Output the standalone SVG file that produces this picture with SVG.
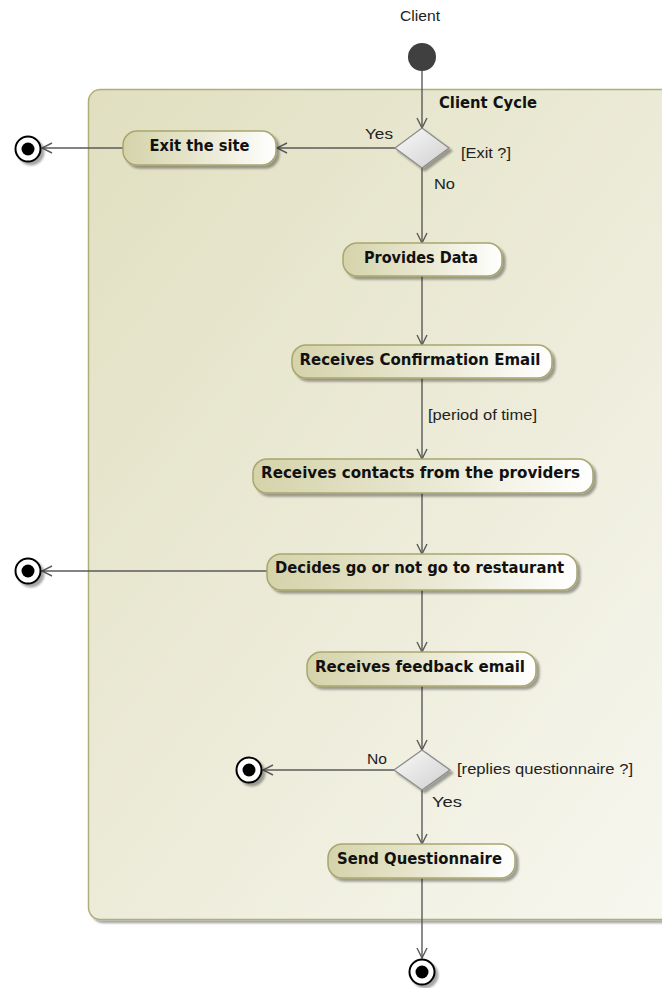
<svg xmlns="http://www.w3.org/2000/svg" width="662" height="988" viewBox="0 0 662 988">
<style>
.act{fill:url(#actGrad);stroke:#a8a66e;stroke-width:1.5;filter:url(#shadow)}
.lbl{font-family:"DejaVu Sans","Liberation Sans",sans-serif;font-weight:bold;font-size:15px;fill:#111;text-anchor:middle}
.lbl-start{text-anchor:start}
.grd{font-family:"Liberation Sans",Arial,sans-serif;font-size:15px;fill:#222}
.edge{stroke:#5a5a5a;stroke-width:1.4;fill:none;marker-end:url(#arr)}
.dec{fill:url(#decGrad);stroke:#8c8c8c;stroke-width:1.3;filter:url(#shadow)}
.fin-o{fill:#fff;stroke:#000;stroke-width:2;filter:url(#shadow)}
.fin-i{fill:#000}
</style>
<defs>
<linearGradient id="actGrad" x1="0" y1="0" x2="1" y2="0">
<stop offset="0" stop-color="#d4d3aa"/>
<stop offset="0.5" stop-color="#e8e7d0"/>
<stop offset="1" stop-color="#ffffff"/>
</linearGradient>
<linearGradient id="contGrad" x1="0" y1="0" x2="1" y2="1">
<stop offset="0" stop-color="#e1dfc0"/>
<stop offset="1" stop-color="#f8f8f2"/>
</linearGradient>
<linearGradient id="decGrad" x1="0" y1="0" x2="1" y2="1">
<stop offset="0" stop-color="#fafafa"/>
<stop offset="1" stop-color="#cfcfcf"/>
</linearGradient>
<filter id="shadow" x="-20%" y="-20%" width="150%" height="160%">
<feGaussianBlur in="SourceAlpha" stdDeviation="1.2"/>
<feOffset dx="3" dy="3" result="o"/>
<feComponentTransfer><feFuncA type="linear" slope="0.35"/></feComponentTransfer>
<feMerge><feMergeNode/><feMergeNode in="SourceGraphic"/></feMerge>
</filter>
<marker id="arr" viewBox="0 0 12 12" refX="11" refY="6" markerWidth="12" markerHeight="12" markerUnits="userSpaceOnUse" orient="auto">
<path d="M1,1 L11,6 L1,11" fill="none" stroke="#5a5a5a" stroke-width="1.4"/>
</marker>
</defs>
<rect width="662" height="988" fill="#ffffff"/>

<g id="title">
<text x="420" y="21" class="grd" text-anchor="middle" textLength="40" lengthAdjust="spacingAndGlyphs">Client</text>
</g>

<g id="client-cycle">
<rect x="88.5" y="89.5" width="640" height="830" rx="12" fill="url(#contGrad)" stroke="#b0ae78" stroke-width="1.5" filter="url(#shadow)"/>
<text x="439" y="108" class="lbl lbl-start" textLength="98" lengthAdjust="spacingAndGlyphs">Client Cycle</text>
</g>

<g id="connectors">
<line class="edge" x1="422" y1="71" x2="422" y2="128"/>
<line class="edge" x1="396" y1="148" x2="277" y2="148"/>
<line class="edge" x1="123" y1="148" x2="42" y2="148"/>
<line class="edge" x1="422" y1="168" x2="422" y2="243"/>
<line class="edge" x1="422" y1="276" x2="422" y2="345"/>
<line class="edge" x1="422" y1="378" x2="422" y2="459"/>
<line class="edge" x1="422" y1="493" x2="422" y2="554"/>
<line class="edge" x1="267" y1="571" x2="42" y2="571"/>
<line class="edge" x1="422" y1="590" x2="422" y2="652"/>
<line class="edge" x1="422" y1="686" x2="422" y2="750"/>
<line class="edge" x1="395" y1="770" x2="263" y2="770"/>
<line class="edge" x1="422" y1="790" x2="422" y2="844"/>
<line class="edge" x1="422" y1="878" x2="422" y2="958"/>
<text x="393" y="139" class="grd" text-anchor="end" textLength="28" lengthAdjust="spacingAndGlyphs">Yes</text>
<text x="461" y="158" class="grd" textLength="50" lengthAdjust="spacingAndGlyphs">[Exit ?]</text>
<text x="434" y="189" class="grd" textLength="21" lengthAdjust="spacingAndGlyphs">No</text>
<text x="428" y="420" class="grd" textLength="109" lengthAdjust="spacingAndGlyphs">[period of time]</text>
<text x="387" y="764" class="grd" text-anchor="end" textLength="20" lengthAdjust="spacingAndGlyphs">No</text>
<text x="457" y="774" class="grd" textLength="176" lengthAdjust="spacingAndGlyphs">[replies questionnaire ?]</text>
<text x="432" y="807" class="grd" textLength="30" lengthAdjust="spacingAndGlyphs">Yes</text>
</g>

<g id="initial">
<circle cx="422" cy="57" r="14" fill="#404040"/>
</g>

<g id="decision-exit">
<polygon class="dec" points="422,128 449,148 422,168 395,148"/>
</g>

<g id="exit-site">
<rect class="act" x="123" y="131" width="153" height="34" rx="14"/>
<text x="199.5" y="151" class="lbl" textLength="100" lengthAdjust="spacingAndGlyphs">Exit the site</text>
</g>

<g id="final-exit">
<circle class="fin-o" cx="28" cy="149" r="12.5"/>
<circle class="fin-i" cx="28" cy="149" r="6.5"/>
</g>

<g id="provides-data">
<rect class="act" x="343" y="243" width="159" height="33" rx="14"/>
<text x="421" y="263" class="lbl" textLength="114" lengthAdjust="spacingAndGlyphs">Provides Data</text>
</g>

<g id="receives-confirmation">
<rect class="act" x="292" y="345" width="260" height="33" rx="14"/>
<text x="420" y="365" class="lbl" textLength="241" lengthAdjust="spacingAndGlyphs">Receives Confirmation Email</text>
</g>

<g id="receives-contacts">
<rect class="act" x="253" y="459" width="340" height="34" rx="14"/>
<text x="420.5" y="478" class="lbl" textLength="319" lengthAdjust="spacingAndGlyphs">Receives contacts from the providers</text>
</g>

<g id="decides">
<rect class="act" x="267" y="554" width="310" height="36" rx="14"/>
<text x="419.5" y="573" class="lbl" textLength="289" lengthAdjust="spacingAndGlyphs">Decides go or not go to restaurant</text>
</g>

<g id="final-decides">
<circle class="fin-o" cx="28" cy="571" r="12.5"/>
<circle class="fin-i" cx="28" cy="571" r="6.5"/>
</g>

<g id="receives-feedback">
<rect class="act" x="307" y="652" width="229" height="34" rx="14"/>
<text x="420" y="672" class="lbl" textLength="210" lengthAdjust="spacingAndGlyphs">Receives feedback email</text>
</g>

<g id="decision-questionnaire">
<polygon class="dec" points="422,750 450,770 422,790 394,770"/>
</g>

<g id="final-questionnaire">
<circle class="fin-o" cx="249" cy="770" r="12.5"/>
<circle class="fin-i" cx="249" cy="770" r="6.5"/>
</g>

<g id="send-questionnaire">
<rect class="act" x="328" y="844" width="187" height="34" rx="14"/>
<text x="419.5" y="864" class="lbl" textLength="165" lengthAdjust="spacingAndGlyphs">Send Questionnaire</text>
</g>

<g id="final-end">
<circle class="fin-o" cx="422" cy="972" r="12.5"/>
<circle class="fin-i" cx="422" cy="972" r="6.5"/>
</g>
</svg>
